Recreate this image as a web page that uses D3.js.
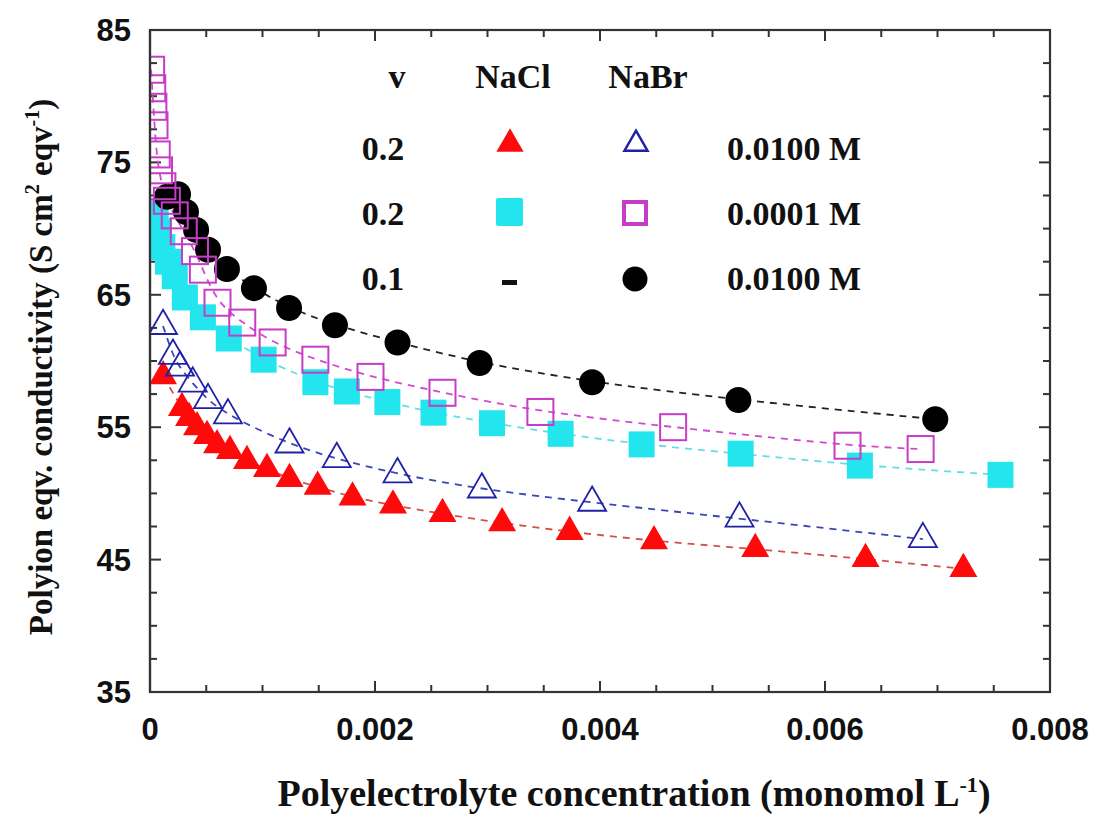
<!DOCTYPE html>
<html>
<head>
<meta charset="utf-8">
<script src="https://cdn.jsdelivr.net/npm/d3@7"></script>
<style>
  body { margin: 0; background: #fff; }
  .tick-label { font-family: 'Liberation Sans', Arial, sans-serif; font-weight: bold; font-size: 31px; fill: #111; }
  .title { font-family: 'Liberation Serif', 'Times New Roman', serif; font-weight: bold; font-size: 33px; fill: #111; }
  .legend-text { font-family: 'Liberation Serif', 'Times New Roman', serif; font-weight: bold; font-size: 34px; fill: #111; }
</style>
</head>
<body>
<svg id="chart" width="1101" height="821"></svg>
<script>
// tick values
var xTicks = [0, 0.002, 0.004, 0.006, 0.008];
var yTicks = [35, 45, 55, 65, 75, 85];

// NaCl, v = 0.2, 0.0100 M (filled red triangles)
var naclTriX = [0.000116, 0.000284, 0.000347, 0.000418, 0.000507, 0.000596, 0.000711, 0.000862, 0.00104, 0.00124,
  0.00149, 0.0018, 0.00216, 0.0026, 0.00313, 0.00373, 0.00448, 0.00538, 0.00636, 0.00723];
var naclTriY = [58.85, 56.45, 55.7, 55.0, 54.35, 53.65, 53.2, 52.45, 51.85, 51.1,
  50.5, 49.7, 49.1, 48.45, 47.75, 47.1, 46.4, 45.8, 45.05, 44.3];

// NaBr, v = 0.2, 0.0100 M (open blue triangles)
var nabrTriX = [0.000116, 0.000204, 0.000267, 0.00038, 0.000516, 0.000693, 0.00124, 0.00166, 0.0022, 0.00295,
  0.00393, 0.00524, 0.00687];
var nabrTriY = [62.65, 60.4, 59.5, 58.3, 57.05, 55.9, 53.7, 52.6, 51.45, 50.3,
  49.3, 48.1, 46.55];

// NaCl, v = 0.2, 0.0001 M (filled cyan squares)
var naclSqX = [0.00002, 0.00005, 0.00008, 0.00011, 0.00016, 0.00022, 0.00031, 0.00047, 0.0007, 0.00101,
  0.00147, 0.00175, 0.00211, 0.00252, 0.00304, 0.00365, 0.00437, 0.00525, 0.00631, 0.00756];
var naclSqY = [71.2, 70.5, 69.8, 68.6, 67.5, 66.4, 64.8, 63.3, 61.7, 60.1,
  58.4, 57.7, 56.9, 56.1, 55.3, 54.5, 53.7, 53.0, 52.1, 51.4];

// NaBr, v = 0.2, 0.0001 M (open magenta squares)
var nabrSqX = [0.00001, 0.00002, 0.00003, 0.00004, 0.00006, 0.00008, 0.00011, 0.00015, 0.00022, 0.0003,
  0.0004, 0.00047, 0.0006, 0.00082, 0.00109, 0.00147, 0.00196, 0.0026, 0.00347, 0.00465, 0.0062, 0.00685];
var nabrSqY = [82.0, 80.6, 79.2, 77.8, 75.6, 74.4, 73.2, 72.1, 71.0, 69.8,
  68.3, 66.9, 64.4, 62.9, 61.4, 60.1, 58.8, 57.6, 56.15, 55.0, 53.6, 53.35];

// NaBr, v = 0.1, 0.0100 M (filled black circles)
var nabrCircX = [0.000151, 0.000249, 0.00032, 0.00041, 0.000516, 0.000684, 0.000924, 0.001236, 0.001644, 0.0022,
  0.00293, 0.00393, 0.00523, 0.00698];
var nabrCircY = [72.4, 72.6, 71.25, 69.9, 68.4, 66.95, 65.5, 64.0, 62.7, 61.4,
  59.85, 58.4, 57.05, 55.6];

// legend rows
var legendV = ['0.2', '0.2', '0.1'];
var legendConc = ['0.0100 M', '0.0001 M', '0.0100 M'];

var svg = d3.select('#chart');
var plot = {left: 150, right: 1050, top: 30, bottom: 692};

var x = d3.scaleLinear().domain([0, 0.008]).range([plot.left, plot.right]);
var y = d3.scaleLinear().domain([35, 85]).range([plot.bottom, plot.top]);

function zip(xs, ys) {
  return xs.map((v, i) => ({x: v, y: ys[i]}));
}

svg.append('defs').append('clipPath').attr('id', 'plot-clip')
  .append('rect')
  .attr('x', plot.left).attr('y', plot.top)
  .attr('width', plot.right - plot.left).attr('height', plot.bottom - plot.top);

// frame with inward ticks on all four sides
var axes = svg.append('g').attr('class', 'axes');
var xMinor = d3.range(0, 16.5).map(i => i * 0.0005);
var yMinor = d3.range(0, 20.5).map(i => 35 + i * 2.5);

function tickLen(isMajor) { return isMajor ? 11 : 7; }

xMinor.forEach(function(v) {
  var major = Math.abs((v / 0.002) - Math.round(v / 0.002)) < 1e-6;
  axes.append('line')
    .attr('x1', x(v)).attr('x2', x(v))
    .attr('y1', plot.bottom).attr('y2', plot.bottom - tickLen(major));
  axes.append('line')
    .attr('x1', x(v)).attr('x2', x(v))
    .attr('y1', plot.top).attr('y2', plot.top + tickLen(major));
});
yMinor.forEach(function(v) {
  var major = Math.abs(((v - 35) / 10) - Math.round((v - 35) / 10)) < 1e-6;
  axes.append('line')
    .attr('x1', plot.left).attr('x2', plot.left + tickLen(major))
    .attr('y1', y(v)).attr('y2', y(v));
  axes.append('line')
    .attr('x1', plot.right).attr('x2', plot.right - tickLen(major))
    .attr('y1', y(v)).attr('y2', y(v));
});
axes.selectAll('line').attr('stroke', '#333').attr('stroke-width', 2);

axes.append('rect')
  .attr('x', plot.left).attr('y', plot.top)
  .attr('width', plot.right - plot.left).attr('height', plot.bottom - plot.top)
  .attr('fill', 'none').attr('stroke', '#333').attr('stroke-width', 2.2);

// tick labels
svg.append('g').selectAll('text')
  .data(xTicks)
  .enter().append('text')
  .attr('class', 'tick-label')
  .attr('x', d => x(d))
  .attr('y', 740)
  .attr('text-anchor', 'middle')
  .text(d => d === 0 ? '0' : d3.format('.3f')(d));

svg.append('g').selectAll('text')
  .data(yTicks)
  .enter().append('text')
  .attr('class', 'tick-label')
  .attr('x', 131)
  .attr('y', d => y(d) + 11)
  .attr('text-anchor', 'end')
  .text(d => d);

// axis titles
var xTitle = svg.append('text')
  .attr('class', 'title')
  .attr('x', 634).attr('y', 806)
  .attr('text-anchor', 'middle')
  .style('font-size', '38px');
xTitle.append('tspan').text('Polyelectrolyte concentration (monomol L');
xTitle.append('tspan').attr('dy', -14).attr('font-size', 22).text('-1');
xTitle.append('tspan').attr('dy', 14).text(')');

var yTitle = svg.append('text')
  .attr('class', 'title')
  .attr('transform', 'translate(52,367) rotate(-90)')
  .attr('text-anchor', 'middle');
yTitle.append('tspan').text('Polyion eqv. conductivity (S cm');
yTitle.append('tspan').attr('dy', -13).attr('font-size', 20).text('2');
yTitle.append('tspan').attr('dy', 13).text(' eqv');
yTitle.append('tspan').attr('dy', -13).attr('font-size', 20).text('-1');
yTitle.append('tspan').attr('dy', 13).text(')');

// dashed fit lines
var line = d3.line().x(d => x(d.x)).y(d => y(d.y)).curve(d3.curveBasis);
var series = [
  {data: zip(naclSqX, naclSqY), line: '#5fe0e6'},
  {data: zip(naclTriX, naclTriY), line: '#d0504a'},
  {data: zip(nabrTriX, nabrTriY), line: '#3a46b8'},
  {data: zip(nabrSqX, nabrSqY), line: '#d04ad0'},
  {data: zip(nabrCircX, nabrCircY), line: '#222'}
];
var lines = svg.append('g').attr('class', 'fits').attr('clip-path', 'url(#plot-clip)');
series.forEach(function(s) {
  lines.append('path')
    .attr('d', line(s.data))
    .attr('fill', 'none')
    .attr('stroke', s.line)
    .attr('stroke-width', 1.8)
    .attr('stroke-dasharray', '7,6');
});

// markers
var marks = svg.append('g').attr('class', 'marks').attr('clip-path', 'url(#plot-clip)');
var triPath = d3.symbol().type(d3.symbolTriangle).size(340)();
var sq = 26;

marks.selectAll('.cyan')
  .data(zip(naclSqX, naclSqY))
  .enter().append('rect')
  .attr('class', 'cyan')
  .attr('x', d => x(d.x) - sq / 2).attr('y', d => y(d.y) - sq / 2)
  .attr('width', sq).attr('height', sq)
  .attr('fill', '#22e5ee');

marks.selectAll('.red')
  .data(zip(naclTriX, naclTriY))
  .enter().append('path')
  .attr('class', 'red')
  .attr('d', triPath)
  .attr('transform', d => 'translate(' + x(d.x) + ',' + y(d.y) + ')')
  .attr('fill', '#ff0a0a');

marks.selectAll('.circ')
  .data(zip(nabrCircX, nabrCircY))
  .enter().append('circle')
  .attr('class', 'circ')
  .attr('cx', d => x(d.x)).attr('cy', d => y(d.y))
  .attr('r', 13)
  .attr('fill', '#000');

marks.selectAll('.blue')
  .data(zip(nabrTriX, nabrTriY))
  .enter().append('path')
  .attr('class', 'blue')
  .attr('d', triPath)
  .attr('transform', d => 'translate(' + x(d.x) + ',' + y(d.y) + ')')
  .attr('fill', 'none')
  .attr('stroke', '#2020a8')
  .attr('stroke-width', 1.8);

marks.selectAll('.mag')
  .data(zip(nabrSqX, nabrSqY))
  .enter().append('rect')
  .attr('class', 'mag')
  .attr('x', d => x(d.x) - sq / 2).attr('y', d => y(d.y) - sq / 2)
  .attr('width', sq).attr('height', sq)
  .attr('fill', 'none')
  .attr('stroke', '#c63cc6')
  .attr('stroke-width', 2);

// redraw left frame line on top of clipped markers
svg.append('line')
  .attr('x1', plot.left).attr('x2', plot.left)
  .attr('y1', plot.top).attr('y2', plot.bottom)
  .attr('stroke', '#333').attr('stroke-width', 2.2);

// legend
var legend = svg.append('g').attr('class', 'legend');
var rowY = [148, 213, 278];
legend.append('text').attr('class', 'legend-text').attr('x', 397).attr('y', 88)
  .attr('text-anchor', 'middle').text('v');
legend.append('text').attr('class', 'legend-text').attr('x', 513).attr('y', 88)
  .attr('text-anchor', 'middle').text('NaCl');
legend.append('text').attr('class', 'legend-text').attr('x', 648).attr('y', 88)
  .attr('text-anchor', 'middle').text('NaBr');

legend.selectAll('.lv')
  .data(legendV)
  .enter().append('text')
  .attr('class', 'legend-text lv')
  .attr('x', 383).attr('y', (d, i) => rowY[i] + 12)
  .attr('text-anchor', 'middle')
  .text(d => d);

legend.selectAll('.lc')
  .data(legendConc)
  .enter().append('text')
  .attr('class', 'legend-text lc')
  .attr('x', 727).attr('y', (d, i) => rowY[i] + 12)
  .text(d => d);

var legTri = d3.symbol().type(d3.symbolTriangle).size(320)();
legend.append('path').attr('d', legTri)
  .attr('transform', 'translate(510,' + (rowY[0] - 4) + ')')
  .attr('fill', '#ff0a0a');
legend.append('path').attr('d', d3.symbol().type(d3.symbolTriangle).size(230)())
  .attr('transform', 'translate(636,' + (rowY[0] - 4) + ')')
  .attr('fill', 'none').attr('stroke', '#2020a8').attr('stroke-width', 2.5);
legend.append('rect')
  .attr('x', 496).attr('y', rowY[1] - 15).attr('width', 27).attr('height', 28)
  .attr('rx', 2)
  .attr('fill', '#22e5ee');
legend.append('rect')
  .attr('x', 624).attr('y', rowY[1] - 11).attr('width', 22).attr('height', 22)
  .attr('fill', 'none').attr('stroke', '#c63cc6').attr('stroke-width', 4);
legend.append('rect')
  .attr('x', 502).attr('y', rowY[2] + 2).attr('width', 15).attr('height', 5)
  .attr('fill', '#111');
legend.append('circle')
  .attr('cx', 635).attr('cy', rowY[2] + 1).attr('r', 12.5)
  .attr('fill', '#000');
</script>
</body>
</html>
